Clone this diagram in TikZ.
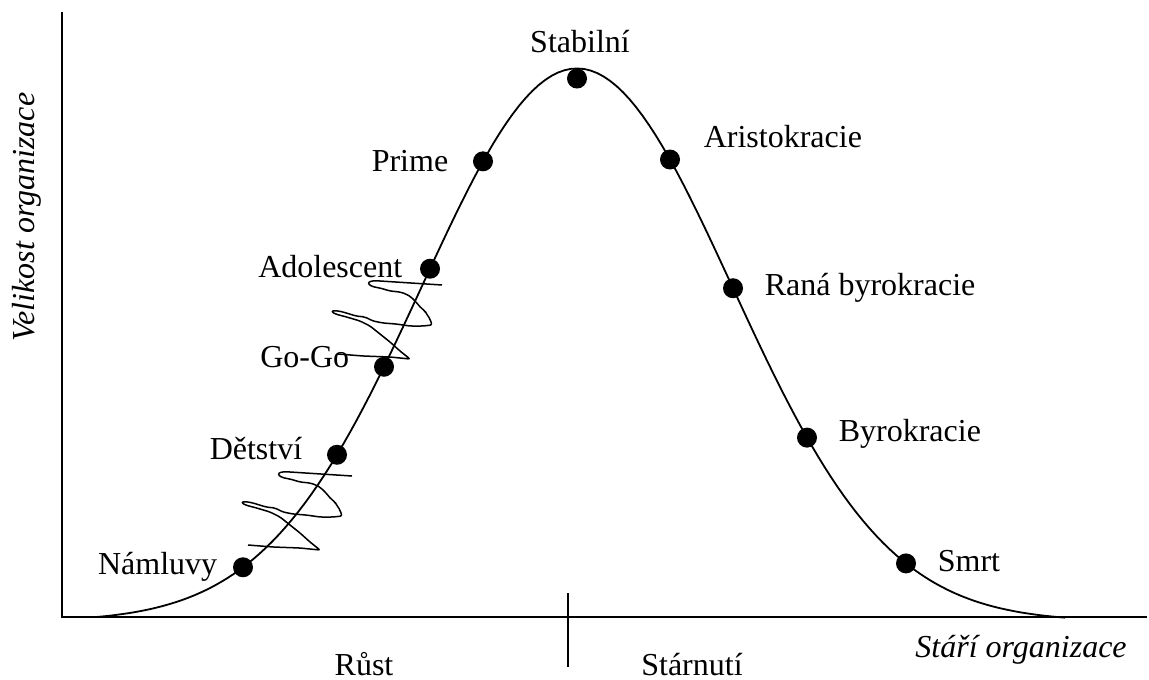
\documentclass[tikz,border=0pt]{standalone}
\usepackage{fontspec}
\setmainfont{Liberation Serif}
\usetikzlibrary{positioning}
\newcommand{\lblfont}{\fontsize{16}{19}\selectfont}
\tikzset{
  axisline/.style={line width=1pt},
  lifecurve/.style={line width=0.9pt},
  stagedot/.style={circle,fill=black,inner sep=0pt,minimum size=10pt},
  stagelbl/.style={inner sep=0pt,font=\lblfont},
  axislbl/.style={inner sep=0pt,font=\lblfont\itshape},
  scrib/.style={line width=0.75pt,rounded corners=1pt},
  scribble/.pic={
    \draw[scrib] (0,0) -- (-62,-4) .. controls (-77,-5) and (-76,1) .. (-62,3)
      -- (-52,6) -- (-42,7) -- (-36,9) -- (-31,12) -- (-26,17) -- (-21,23)
      -- (-17,26) -- (-16,28) -- (-12,34) -- (-10,40) -- (-19,41) -- (-32,41)
      -- (-46,39) -- (-59,38) -- (-69,36) -- (-77,32) -- (-86,31) -- (-99,27)
      .. controls (-113,24) and (-112,28) .. (-99,31)
      -- (-92,33) -- (-82,36) -- (-72,41)
      -- (-62,49) -- (-52,57) -- (-42,66) -- (-32,74) -- (-52,72) -- (-79,71)
      -- (-104,69);
  }
}

\begin{document}
\begin{tikzpicture}[x=0.5pt,y=-0.5pt,
  declare function={bell(\t)=617-553*(exp(-0.5*((\t-577)/155)*((\t-577)/155))-0.0082);}]
\useasboundingbox (0,0) rectangle (1149,679);

% axes
\coordinate (origin) at (62,617);
\coordinate (ytop) at (62,12);
\coordinate (xend) at (1147,617);
\coordinate (ticktop) at (568,593);
\coordinate (tickbot) at (568,667);
\draw[axisline] (ytop) -- (origin) -- (xend);
\draw[line width=0.8pt] (ticktop) -- (tickbot);

% life cycle curve
\draw[lifecurve] plot[domain=97:1065,samples=150] (\x,{bell(\x)});

% stages
\node[stagedot] (namdot)   at (243,{bell(243)}) {};
\node[stagedot] (detdot)   at (337,{bell(337)}) {};
\node[stagedot] (gogodot)  at (384,{bell(384)}) {};
\node[stagedot] (adodot)   at (430,{bell(430)}) {};
\node[stagedot] (primedot) at (483,{bell(483)}) {};
\node[stagedot] (stabdot)  at (577,{bell(577)+10}) {};
\node[stagedot] (arisdot)  at (670,{bell(670)}) {};
\node[stagedot] (ranadot)  at (733,{bell(733)}) {};
\node[stagedot] (byrodot)  at (807,{bell(807)}) {};
\node[stagedot] (smrtdot)  at (906,{bell(906)}) {};

\node[stagelbl, left=7.5pt of namdot] (namtxt) {Námluvy};
\node[stagelbl, left=12pt of detdot, yshift=3pt] (dettxt) {Dětství};
\node[stagelbl, left=12pt of gogodot, yshift=4.75pt] (gogotxt) {Go-Go};
\node[stagelbl, left=8.5pt of adodot, yshift=1pt] (adotxt) {Adolescent};
\node[stagelbl, left=12pt of primedot] (primetxt) {Prime};
\node[stagelbl, above=7.5pt of stabdot, xshift=1.5pt] (stabtxt) {Stabilní};
\node[stagelbl, right=11.5pt of arisdot, yshift=11.3pt] (aristxt) {Aristokracie};
\node[stagelbl, right=10.5pt of ranadot] (ranatxt) {Raná byrokracie};
\node[stagelbl, right=10.5pt of byrodot, yshift=1.75pt] (byrotxt) {Byrokracie};
\node[stagelbl, right=10.5pt of smrtdot, yshift=1pt] (smrttxt) {Smrt};

% traps
\pic at (352,476) {scribble};
\pic at (442,285) {scribble};

% axis labels
\node[axislbl, rotate=90, anchor=base] (ylab) at (34,217) {Velikost organizace};
\node[axislbl, anchor=base west] (xlab) at (915,657) {Stáří organizace};
\node[stagelbl, anchor=base] (growtxt) at (364,675) {Růst};
\node[stagelbl, anchor=base] (agetxt) at (692,675) {Stárnutí};
\end{tikzpicture}
\end{document}
